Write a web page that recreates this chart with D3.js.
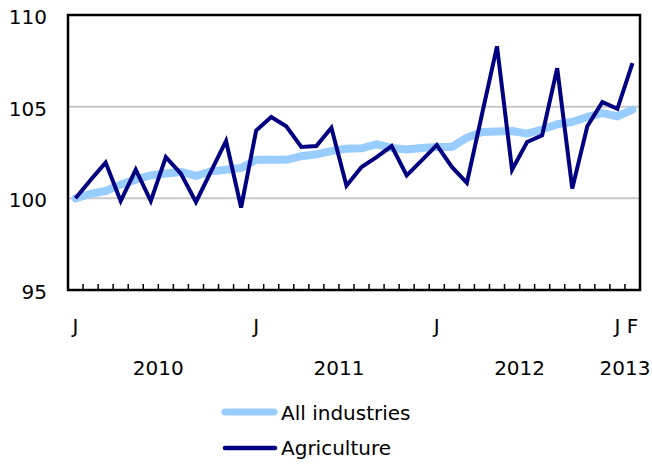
<!DOCTYPE html>
<html>
<head>
<meta charset="utf-8">
<script src="https://cdn.jsdelivr.net/npm/d3@7"></script>
<style>
  body { margin: 0; background: #fff; }
  text { font-family: "DejaVu Sans", Verdana, sans-serif; fill: #000; }
</style>
</head>
<body>
<div id="chart"></div>
<script>
// Monthly index, January 2010 = 100 (Jan 2010 .. Feb 2013)
const months = ['J','F','M','A','M','J','J','A','S','O','N','D',
                'J','F','M','A','M','J','J','A','S','O','N','D',
                'J','F','M','A','M','J','J','A','S','O','N','D',
                'J','F'];
const allIndustries = [100.0, 100.25, 100.4, 100.75, 101.02, 101.25, 101.35, 101.44, 101.22, 101.47, 101.56, 101.65,
                       102.1, 102.1, 102.1, 102.3, 102.4, 102.58, 102.71, 102.73, 102.95, 102.75, 102.66, 102.75,
                       102.8, 102.8, 103.31, 103.62, 103.65, 103.67, 103.53, 103.75, 104.04, 104.16, 104.44, 104.65,
                       104.47, 104.84];
const agriculture = [100.0, 101.0, 101.95, 99.85, 101.56, 99.85, 102.25, 101.35, 99.8, 101.47, 103.13, 99.5,
                     103.7, 104.44, 103.93, 102.8, 102.85, 103.85, 100.69, 101.71, 102.25, 102.85, 101.25, 102.07,
                     102.9, 101.71, 100.84, 104.57, 108.29, 101.56, 103.07, 103.44, 107.1, 100.53, 103.93, 105.25,
                     104.88, 107.38];
const yTicks = [95, 100, 105, 110];
const monthLabels = [{ i: 0, t: 'J' }, { i: 12, t: 'J' }, { i: 24, t: 'J' }, { i: 36, t: 'J' }, { i: 37, t: 'F' }];
const yearLabels = [{ from: 0, to: 11, t: '2010' }, { from: 12, to: 23, t: '2011' }, { from: 24, to: 35, t: '2012' }, { from: 36, to: 37, t: '2013' }];

const width = 652;
const height = 466;
const margin = { top: 15, right: 12, bottom: 176, left: 68 };

const svg = d3.select('#chart').append('svg')
    .attr('width', width)
    .attr('height', height);

const xScale = d3.scaleBand()
    .domain(d3.range(months.length))
    .range([margin.left, width - margin.right]);

const yScale = d3.scaleLinear()
    .domain([95, 110])
    .range([height - margin.bottom, margin.top]);

const xc = i => xScale(i) + xScale.bandwidth() / 2;

// gridlines
svg.selectAll('.grid')
    .data(yTicks.filter(d => d > 95 && d < 110))
    .enter().append('line')
    .attr('x1', margin.left)
    .attr('x2', width - margin.right)
    .attr('y1', d => yScale(d))
    .attr('y2', d => yScale(d))
    .attr('stroke', '#c8c8c8')
    .attr('stroke-width', 2);

// y labels
svg.selectAll('.ylab')
    .data(yTicks)
    .enter().append('text')
    .attr('x', 47)
    .attr('y', d => yScale(d) + 9)
    .style('text-anchor', 'end')
    .style('font-size', '20px')
    .text(d => d);

// lines
const lineAll = d3.line()
    .x((d, i) => xc(i))
    .y(d => yScale(d));

svg.append('path')
    .datum(allIndustries)
    .attr('d', lineAll)
    .attr('fill', 'none')
    .attr('stroke', '#99ccff')
    .attr('stroke-width', 8)
    .attr('stroke-linejoin', 'round')
    .attr('stroke-linecap', 'round');

svg.append('path')
    .datum(agriculture)
    .attr('d', lineAll)
    .attr('fill', 'none')
    .attr('stroke', '#000080')
    .attr('stroke-width', 4)
    .attr('stroke-linejoin', 'miter');

// month ticks along bottom
const bottom = height - margin.bottom;
svg.selectAll('.tick')
    .data(d3.range(1, months.length))
    .enter().append('line')
    .attr('x1', d => xScale(d))
    .attr('x2', d => xScale(d))
    .attr('y1', bottom)
    .attr('y2', bottom - 6)
    .attr('stroke', '#000')
    .attr('stroke-width', 1.5);

// frame
svg.append('rect')
    .attr('x', margin.left)
    .attr('y', margin.top)
    .attr('width', width - margin.left - margin.right)
    .attr('height', bottom - margin.top)
    .attr('fill', 'none')
    .attr('stroke', '#000')
    .attr('stroke-width', 2.5);

// month labels
svg.selectAll('.mlab')
    .data(monthLabels)
    .enter().append('text')
    .attr('x', d => xc(d.i))
    .attr('y', 333)
    .style('text-anchor', 'middle')
    .style('font-size', '20px')
    .text(d => d.t);

// year labels
svg.selectAll('.ylabel')
    .data(yearLabels)
    .enter().append('text')
    .attr('x', d => (xc(d.from) + xc(d.to)) / 2)
    .attr('y', 375)
    .style('text-anchor', 'middle')
    .style('font-size', '20px')
    .text(d => d.t);

// legend
const legend = svg.append('g')
    .attr('transform', 'translate(225, 0)');

legend.append('line')
    .attr('x1', 0).attr('x2', 49)
    .attr('y1', 412).attr('y2', 412)
    .attr('stroke', '#99ccff')
    .attr('stroke-width', 7)
    .attr('stroke-linecap', 'round');

legend.append('text')
    .attr('x', 56)
    .attr('y', 420)
    .style('font-size', '20px')
    .text('All industries');

legend.append('line')
    .attr('x1', 0).attr('x2', 50)
    .attr('y1', 448).attr('y2', 448)
    .attr('stroke', '#000080')
    .attr('stroke-width', 4.5)
    .attr('stroke-linecap', 'round');

legend.append('text')
    .attr('x', 56)
    .attr('y', 455)
    .style('font-size', '20px')
    .text('Agriculture');
</script>
</body>
</html>
